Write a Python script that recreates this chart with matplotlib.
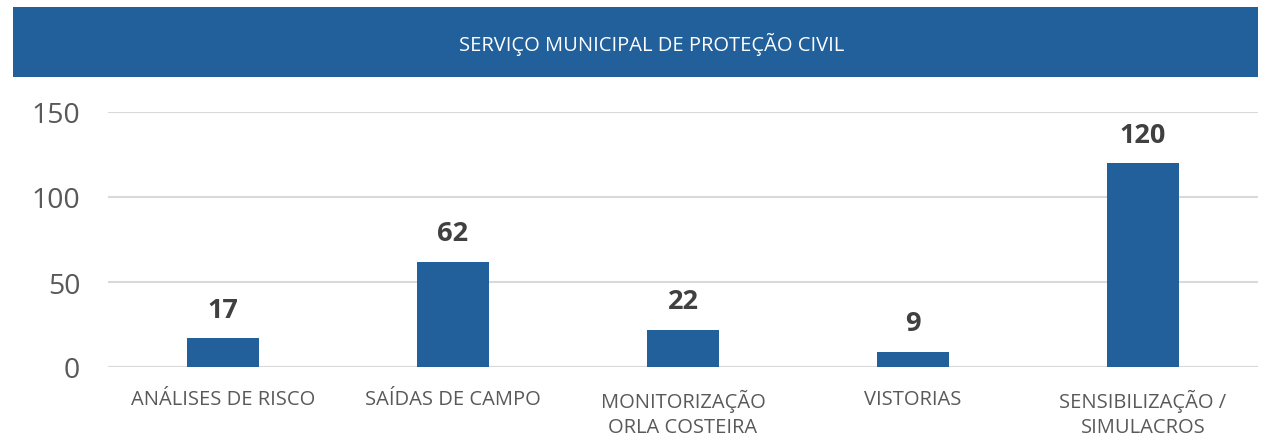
import matplotlib
matplotlib.use("Agg")
import matplotlib.pyplot as plt
from matplotlib.patches import Rectangle

# Data
categories = ["ANÁLISES DE RISCO", "SAÍDAS DE CAMPO", "MONITORIZAÇÃO\nORLA COSTEIRA",
              "VISTORIAS", "SENSIBILIZAÇÃO /\nSIMULACROS"]
values = [17, 62, 22, 9, 120]
yticks = [0, 50, 100, 150]
title = "SERVIÇO MUNICIPAL DE PROTEÇÃO CIVIL"

blue = "#21609B"
grey = "#595959"

plt.rcParams["font.family"] = ["Open Sans", "DejaVu Sans"]

W, H = 1273, 439
fig = plt.figure(figsize=(W / 100, H / 100), dpi=100)
ax = fig.add_axes([108 / W, 1 - 368 / H, (1258 - 108) / W, (368 - 113) / H])

# title banner
fig.patches.append(Rectangle((13 / W, 1 - 78 / H), (1258 - 13) / W, 70 / H,
                             transform=fig.transFigure, facecolor=blue,
                             edgecolor="none", zorder=0))
fig.text(652 / W, 1 - 44 / H, title, color="white", fontsize=14.5,
         ha="center", va="center")

x = range(len(categories))
bars = ax.bar(x, values, width=0.31, color=blue, zorder=3)
for b, v in zip(bars, values):
    ax.annotate(str(v), (b.get_x() + b.get_width() / 2, v), xytext=(0, 11),
                textcoords="offset points", ha="center", va="bottom",
                fontsize=19.5, fontweight="bold", color="#404040")

ax.set_xlim(-0.5, len(categories) - 0.5)
ax.set_ylim(0, 150)
ax.set_yticks(yticks)
ax.set_xticks(list(x))
ax.set_xticklabels(categories, fontsize=14.5, color=grey, linespacing=1.3)
ax.tick_params(axis="y", length=0, pad=20, labelsize=20.5, labelcolor=grey)
ax.tick_params(axis="x", length=0, pad=16)
ax.grid(axis="y", color="#D9D9D9", linewidth=1.5, zorder=0)
for s in ax.spines.values():
    s.set_visible(False)
ax.axhline(0, color="#D9D9D9", linewidth=1.5, zorder=2)

fig.savefig("out.png", dpi=100)
